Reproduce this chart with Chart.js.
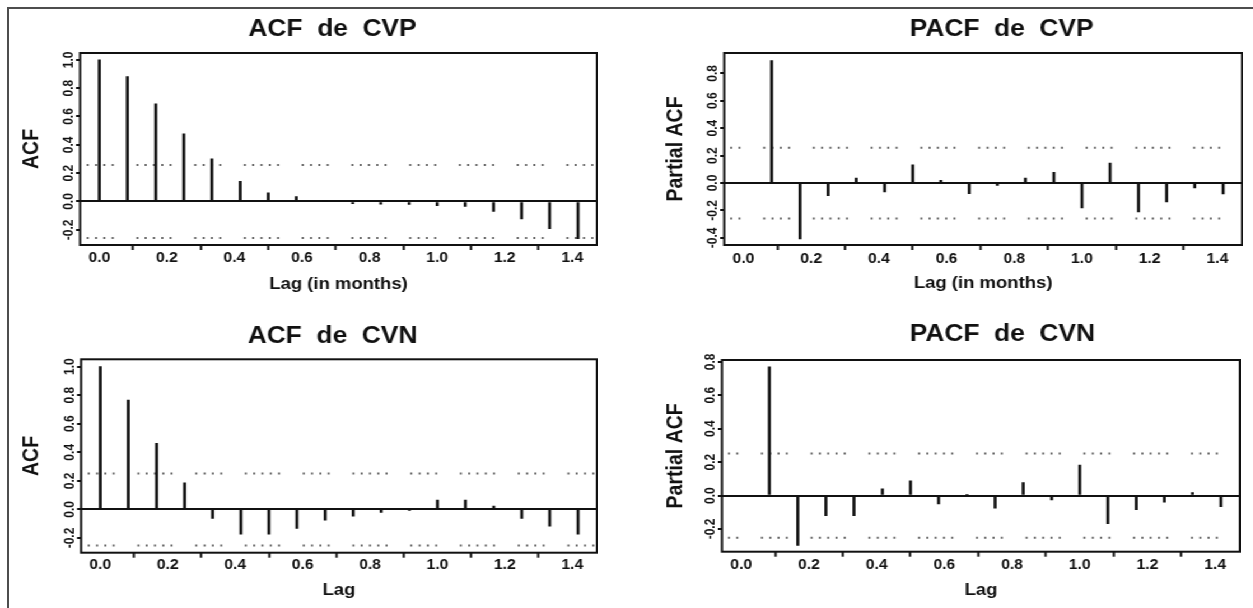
<!DOCTYPE html>
<html lang="es">
<head>
<meta charset="utf-8">
<title>ACF y PACF de CVP y CVN</title>
<script src="https://cdn.jsdelivr.net/npm/chart.js@4.4.1/dist/chart.umd.min.js"></script>
<style>
    html, body { margin: 0; padding: 0; background: #fff; overflow: hidden; }
    body { width: 1253px; height: 608px; position: relative; }
    #marco {
        position: absolute; left: 7px; top: 7px; width: 1300px; height: 700px;
        border-left: 2px solid #4d4d4d; border-top: 2px solid #4d4d4d;
    }
    #figura { position: absolute; left: 0; top: 0; height: 608px; transform-origin: 0 0; }
    .panel { position: absolute; }
</style>
</head>
<body>
<div id="marco"></div>
<div id="figura"></div>
<script>
// rezagos (en meses) y valores
const lags = [0, 0.083, 0.167, 0.25, 0.333, 0.417, 0.5, 0.583, 0.667, 0.75, 0.833, 0.917, 1.0, 1.083, 1.167, 1.25, 1.333, 1.417]
const lagsParcial = [0.083, 0.167, 0.25, 0.333, 0.417, 0.5, 0.583, 0.667, 0.75, 0.833, 0.917, 1.0, 1.083, 1.167, 1.25, 1.333, 1.417]

const acfCVP = [1.0, 0.882, 0.689, 0.478, 0.301, 0.143, 0.061, 0.034, 0.003, -0.016, -0.018, -0.02, -0.03, -0.035, -0.07, -0.123, -0.192, -0.262]
const pacfCVP = [0.893, -0.407, -0.092, 0.036, -0.065, 0.133, 0.02, -0.078, -0.017, 0.036, 0.077, -0.182, 0.145, -0.211, -0.138, -0.036, -0.08]
const acfCVN = [1.0, 0.766, 0.463, 0.187, -0.063, -0.173, -0.173, -0.133, -0.075, -0.047, -0.021, -0.004, 0.065, 0.065, 0.023, -0.063, -0.117, -0.173]
const pacfCVN = [0.77, -0.299, -0.121, -0.121, 0.04, 0.088, -0.05, 0.002, -0.075, 0.078, -0.026, 0.183, -0.169, -0.085, -0.04, 0.018, -0.066]

const bandaCVP = 0.258
const bandaCVN = 0.252

const ticksX = [0, 0.2, 0.4, 0.6, 0.8, 1.0, 1.2, 1.4]
const ticksACF = [-0.2, 0, 0.2, 0.4, 0.6, 0.8, 1.0]
const ticksPacfCVP = [-0.4, -0.2, 0, 0.2, 0.4, 0.6, 0.8]
const ticksPacfCVN = [-0.2, 0, 0.2, 0.4, 0.6, 0.8]

// la figura original viene estirada a lo ancho
const ESTIRA = 1.12
const FUENTE = '"Liberation Sans", Arial, Helvetica, sans-serif'
const NEGRO = '#111'
const GRIS = '#5e5e5e'
const X_MIN = -0.057
const X_MAX = 1.473
const PUNTOS = [2, 6.3, 2, 6.3, 2, 6.3, 2, 22.7, 2, 6.3, 2, 6.3, 2, 6.3, 2, 6.3, 2, 22.7]

const TAM_TITULO = 23.5
const TAM_EJE_X = 16.5
const TAM_EJE_Y = 19.5
const TAM_TICK_X = 14
const TAM_TICK_Y = 12

const paneles = [
    {
        titulo: 'ACF  de  CVP', ejeY: 'ACF', ejeX: 'Lag (in months)',
        lags: lags, valores: acfCVP, ticksY: ticksACF, banda: bandaCVP, rangoY: [-0.307, 1.048],
        caja: [80, 53, 598, 245], centroTitulo: [333, 30], tituloY: 32.5, etiquetasX: 258, tituloX: 284,
        arriba: 0, izquierda: 0, fase: 6.7
    },
    {
        titulo: 'PACF  de  CVP', ejeY: 'Partial ACF', ejeX: 'Lag (in months)',
        lags: lagsParcial, valores: pacfCVP, ticksY: ticksPacfCVP, banda: bandaCVP, rangoY: [-0.452, 0.948],
        caja: [724, 53, 1243, 245], centroTitulo: [1002, 30], tituloY: 676, etiquetasX: 259, tituloX: 283,
        arriba: 0, izquierda: 560, fase: 39
    },
    {
        titulo: 'ACF  de  CVN', ejeY: 'ACF', ejeX: 'Lag',
        lags: lags, valores: acfCVN, ticksY: ticksACF, banda: bandaCVN, rangoY: [-0.303, 1.051],
        caja: [81, 359.3, 598, 552.7], centroTitulo: [333, 336.5], tituloY: 32.5, etiquetasX: 565, tituloX: 590,
        arriba: 300, izquierda: 0, fase: 6.7
    },
    {
        titulo: 'PACF  de  CVN', ejeY: 'Partial ACF', ejeX: 'Lag',
        lags: lagsParcial, valores: pacfCVN, ticksY: ticksPacfCVN, banda: bandaCVN, rangoY: [-0.336, 0.811],
        caja: [722, 360, 1241, 551.7], centroTitulo: [1003, 335], tituloY: 676.5, etiquetasX: 565, tituloX: 590,
        arriba: 300, izquierda: 560, fase: 39
    }
]

const cajaPlugin = {
    id: 'caja',
    afterDraw(chart) {
        const { ctx, chartArea: a } = chart
        ctx.save()
        ctx.strokeStyle = NEGRO
        ctx.lineWidth = 2
        ctx.strokeRect(a.left, a.top, a.right - a.left, a.bottom - a.top)
        ctx.restore()
    }
}

// el titulo de R no queda centrado justo sobre la caja
const moverTitulo = {
    id: 'moverTitulo',
    afterLayout(chart, args, opts) {
        const t = chart.titleBlock
        if (!t) return
        t.left += opts.dx
        t.right += opts.dx
    }
}

const figura = document.querySelector('#figura')
figura.style.width = (1253 / ESTIRA) + 'px'
figura.style.transform = `scaleX(${ESTIRA})`

paneles.forEach(p => crearPanel(p))

function fuente(size) {
    return { family: FUENTE, size, weight: 'bold' }
}

function lineaBanda(y, dash, offset) {
    return {
        type: 'line',
        data: [{ x: X_MIN, y }, { x: X_MAX, y }],
        borderColor: GRIS,
        borderWidth: 2,
        borderDash: dash,
        borderDashOffset: offset,
        pointRadius: 0,
        fill: false
    }
}

function crearPanel(p) {
    const [L, T, R, B] = p.caja
    const uL = L / ESTIRA
    const uR = R / ESTIRA
    const ancho = Math.round(uR - p.izquierda)
    const izq = uR - ancho
    const alto = Math.round(p.tituloX + TAM_EJE_X * 0.6 - p.arriba)

    const div = document.createElement('div')
    div.className = 'panel'
    div.style.left = izq + 'px'
    div.style.top = p.arriba + 'px'
    div.style.width = ancho + 'px'
    div.style.height = alto + 'px'
    const canvas = document.createElement('canvas')
    div.appendChild(canvas)
    figura.appendChild(div)

    const anchoY = uL - izq
    const altoX = alto - (B - p.arriba)
    const padTituloArriba = p.centroTitulo[1] - p.arriba - TAM_TITULO * 0.6
    const padTituloAbajo = T - p.arriba - TAM_TITULO * 1.2 - padTituloArriba
    const desplaza = p.centroTitulo[0] / ESTIRA - (uL + uR) / 2
    const padEjeY = p.tituloY / ESTIRA - izq - TAM_EJE_Y * 0.6
    const padTicksX = p.etiquetasX - B - 5 - TAM_TICK_X * 0.6

    const periodo = PUNTOS.reduce((a, b) => a + b, 0)
    const dash = PUNTOS.map(v => v / ESTIRA)
    const offset = (periodo - p.fase) / ESTIRA

    new Chart(canvas, {
        type: 'bar',
        data: {
            datasets: [
                {
                    type: 'bar',
                    data: p.lags.map((x, i) => ({ x, y: p.valores[i] })),
                    backgroundColor: NEGRO,
                    borderWidth: 0,
                    barThickness: 2
                },
                lineaBanda(p.banda, dash, offset),
                lineaBanda(-p.banda, dash, offset)
            ]
        },
        plugins: [cajaPlugin, moverTitulo],
        options: {
            responsive: true,
            maintainAspectRatio: false,
            animation: false,
            layout: { padding: 0 },
            plugins: {
                legend: { display: false },
                tooltip: { enabled: false },
                title: {
                    display: true,
                    text: p.titulo,
                    fullSize: false,
                    color: NEGRO,
                    font: fuente(TAM_TITULO),
                    padding: { top: padTituloArriba, bottom: padTituloAbajo }
                },
                moverTitulo: { dx: desplaza }
            },
            scales: {
                x: {
                    type: 'linear',
                    min: X_MIN,
                    max: X_MAX,
                    offset: false,
                    afterBuildTicks: s => { s.ticks = ticksX.map(value => ({ value })) },
                    afterFit: s => { s.height = altoX },
                    grid: { drawOnChartArea: false, drawTicks: true, tickLength: 5, tickWidth: 2, tickColor: NEGRO },
                    border: { display: false },
                    ticks: {
                        autoSkip: false, maxRotation: 0, minRotation: 0,
                        padding: padTicksX, color: NEGRO, font: fuente(TAM_TICK_X),
                        callback: v => v.toFixed(1)
                    },
                    title: { display: true, text: p.ejeX, color: NEGRO, font: fuente(TAM_EJE_X), padding: { top: 0, bottom: 0 } }
                },
                y: {
                    min: p.rangoY[0],
                    max: p.rangoY[1],
                    afterBuildTicks: s => { s.ticks = p.ticksY.map(value => ({ value })) },
                    afterFit: s => { s.width = anchoY },
                    grid: {
                        color: c => c.tick && c.tick.value === 0 ? NEGRO : 'rgba(0,0,0,0)',
                        lineWidth: 2, tickColor: NEGRO, tickLength: 3.6, tickWidth: 2
                    },
                    border: { display: false },
                    ticks: {
                        autoSkip: false, minRotation: 90, maxRotation: 90, crossAlign: 'center',
                        padding: -3.8, color: NEGRO, font: fuente(TAM_TICK_Y),
                        callback: v => v.toFixed(1)
                    },
                    title: { display: true, text: p.ejeY, color: NEGRO, font: fuente(TAM_EJE_Y), padding: { top: padEjeY, bottom: 0 } }
                }
            }
        }
    })
}
</script>
</body>
</html>
